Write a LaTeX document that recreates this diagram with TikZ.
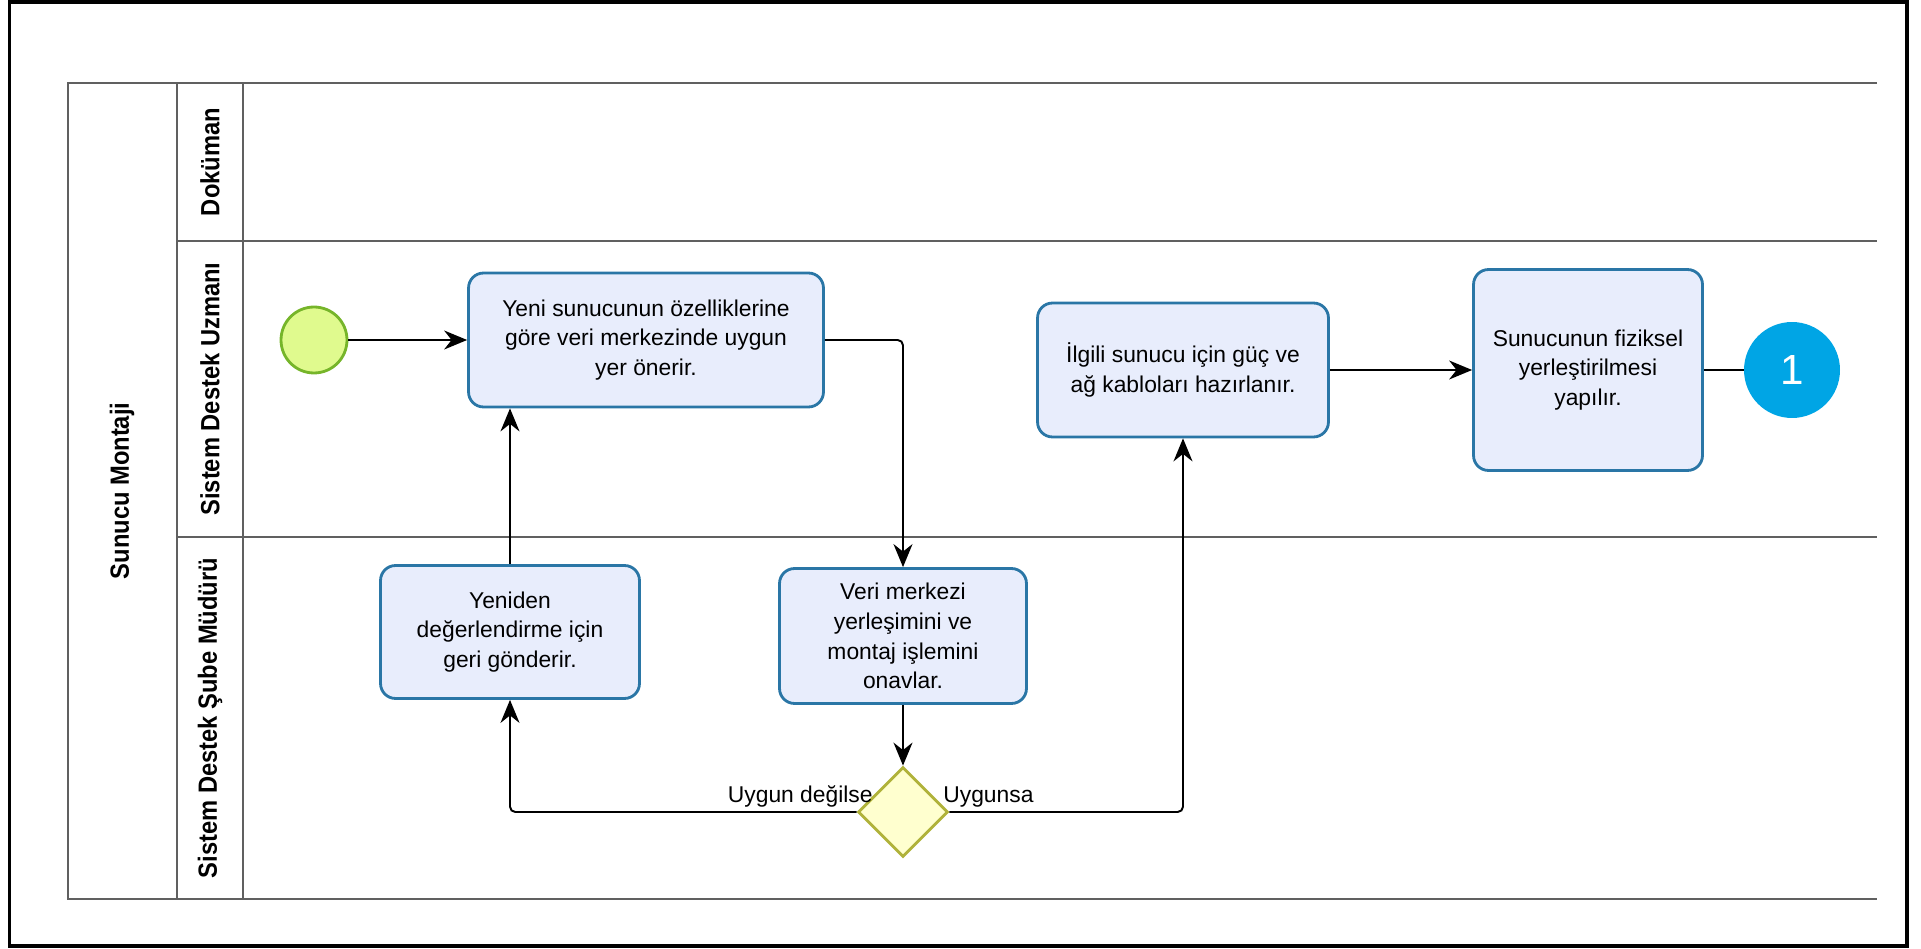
\documentclass[tikz,border=0pt]{standalone}
\usepackage{fontspec}
\setmainfont{Liberation Sans}
\newfontfamily\lanefont{Liberation Sans}[FakeStretch=0.9]
\usetikzlibrary{shapes.geometric, arrows.meta}
\definecolor{taskfill}{HTML}{E8EDFC}
\definecolor{taskline}{HTML}{2A76A6}
\definecolor{startfill}{HTML}{E0FA8E}
\definecolor{startline}{HTML}{76B52A}
\definecolor{gatefill}{HTML}{FFFFCF}
\definecolor{gateline}{HTML}{B0B23A}
\definecolor{endfill}{HTML}{00A5E5}
\definecolor{lanegray}{HTML}{606060}

\begin{document}
\begin{tikzpicture}[x=0.02cm, y=-0.02cm,
    task/.style={draw=taskline, fill=taskfill, line width=1.6pt, rounded corners=0.3cm,
      align=center, inner sep=0pt, font=\fontsize{13}{17}\selectfont},
    flow/.style={-{Stealth[length=0.46cm, width=0.38cm]}, line width=1.1pt, rounded corners=3pt},
    lane/.style={draw=lanegray, line width=1.2pt},
    lanelabel/.style={rotate=90, font=\lanefont\bfseries\fontsize{15}{18}\selectfont},
    gatelabel/.style={font=\fontsize{13}{17}\selectfont, inner sep=0pt}]
    \useasboundingbox (0,0) rectangle (1921,949);
    \draw[line width=1.8pt] (9.5,2) rectangle (1907,946);

    \draw[lane] (1877,83) -- (68,83) -- (68,899) -- (1877,899);
    \draw[lane] (177,83) -- (177,899);
    \draw[lane] (243,83) -- (243,899);
    \draw[lane] (177,241) -- (1877,241);
    \draw[lane] (177,537) -- (1877,537);
    \node[lanelabel] (pool) at (122,491) {Sunucu Montaji};
    \node[lanelabel] (docs) at (210,162) {Doküman};
    \node[lanelabel] (expert) at (210,389) {Sistem Destek Uzmanı};
    \node[lanelabel] (manager) at (210,718) {Sistem Destek Şube Müdürü};

    \node[circle, draw=startline, fill=startfill, line width=1.6pt, minimum size=1.32cm, inner sep=0pt] (start) at (314,340) {};
    \node[task, minimum width=7.1cm, minimum height=2.68cm] (propose) at (646,340) {Yeni sunucunun özelliklerine\\göre veri merkezinde uygun\\yer önerir.};
    \node[task, minimum width=5.82cm, minimum height=2.68cm] (cables) at (1183,370) {İlgili sunucu için güç ve\\ağ kabloları hazırlanır.};
    \node[task, minimum width=4.58cm, minimum height=4.02cm] (place) at (1588,370) {Sunucunun fiziksel\\yerleştirilmesi\\yapılır.};
    \node[circle, fill=endfill, minimum size=1.92cm, inner sep=0pt, text=white, font=\fontsize{24}{24}\selectfont] (link) at (1792,370) {1};
    \node[task, minimum width=5.18cm, minimum height=2.66cm] (resend) at (510,632) {Yeniden\\değerlendirme için\\geri gönderir.};
    \node[task, minimum width=4.94cm, minimum height=2.7cm] (approve) at (903,636) {Veri merkezi\\yerleşimini ve\\montaj işlemini\\onavlar.};
    \node[diamond, draw=gateline, fill=gatefill, line width=1.6pt, minimum size=1.8cm, inner sep=0pt] (check) at (903,812) {};
    \node[gatelabel, anchor=base east] (notok) at (873,802) {Uygun değilse};
    \node[gatelabel, anchor=base west] (ok) at (943,802) {Uygunsa};

    \draw[flow] (start) -- (propose);
    \draw[flow] (propose.east) -| (approve.north);
    \draw[flow] (approve) -- (check);
    \draw[flow] (check.west) -| (resend.south);
    \draw[flow] (resend.north) -- (resend.north |- propose.south);
    \draw[flow] (check.east) -| (cables.south);
    \draw[flow] (cables) -- (place);
    \draw[line width=1.1pt] (place) -- (link);
\end{tikzpicture}
\end{document}
